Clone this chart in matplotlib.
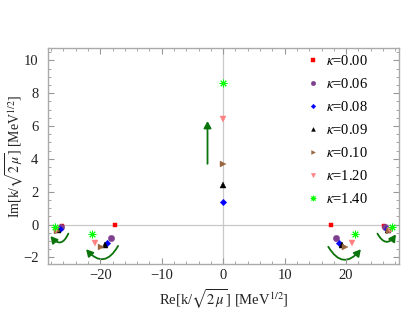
import matplotlib
matplotlib.use("Agg")
import matplotlib.pyplot as plt
from matplotlib.patches import FancyArrowPatch
from matplotlib.ticker import MultipleLocator

plt.rcParams['font.family'] = ['Liberation Serif', 'DejaVu Serif']
plt.rcParams['mathtext.fontset'] = 'stix'

kappas = ["0.00", "0.06", "0.08", "0.09", "0.10", "1.20", "1.40"]
colors = ["#ff0000", "#7f3f8f", "#0000ff", "#000000", "#99663f", "#ff8080", "#00ff00"]
markers = ["s", "o", "D", "^", ">", "v", (8, 2, 0)]
msizes = [3.4, 4.6, 3.3, 4.0, 4.0, 4.4, 5.5]

re_vals = [
    [-26.2, -17.6, 17.6, 26.2],
    [-26.4, -18.3, 18.3, 26.4],
    [-26.6, -18.9, 0.0, 18.9, 26.6],
    [-26.8, -19.3, 0.0, 19.3, 26.8],
    [-27.0, -19.8, 0.0, 19.8, 27.0],
    [-27.2, -20.9, 0.0, 20.9, 27.2],
    [-27.4, -21.4, 0.0, 21.4, 27.4],
]
im_vals = [
    [-0.10, 0.0, 0.0, -0.10],
    [-0.15, -0.8, -0.8, -0.15],
    [-0.25, -1.1, 1.4, -1.1, -0.25],
    [-0.35, -1.25, 2.4, -1.25, -0.35],
    [-0.40, -1.35, 3.7, -1.35, -0.40],
    [-0.30, -1.15, 6.4, -1.15, -0.30],
    [-0.15, -0.6, 8.6, -0.6, -0.15],
]

# annotation arrows (start, end, curvature)
arrows = [
    ((-25.2, -0.55), (-28.1, -0.7), -0.8),
    ((25.1, -0.55), (28.1, -0.6), 0.8),
    ((-17.1, -1.3), (-22.3, -1.5), -0.7),
    ((17.1, -1.35), (22.4, -1.5), 0.7),
]
vert_arrow = ((-2.55, 3.7), (-2.55, 6.3))

fig = plt.figure(figsize=(4.15, 3.12), dpi=100)
ax = fig.add_axes([0.1157, 0.1538, 0.8457, 0.8462 - 0.1538])

ax.axhline(0, color="#c8c8c8", lw=0.9, zorder=0)
ax.axvline(0, color="#c8c8c8", lw=0.9, zorder=0)

green = "#0a730a"
for (p0, p1, rad) in arrows:
    a = FancyArrowPatch(p0, p1, connectionstyle=f"arc3,rad={rad}",
                        arrowstyle="-|>,head_length=4,head_width=2.2",
                        color=green, lw=1.3, mutation_scale=1, shrinkA=0, shrinkB=0, zorder=1)
    ax.add_patch(a)
a = FancyArrowPatch(vert_arrow[0], vert_arrow[1], arrowstyle="-|>,head_length=4,head_width=2.2",
                    color=green, lw=1.3, mutation_scale=1, shrinkA=0, shrinkB=0, zorder=1)
ax.add_patch(a)

for k, c, m, s, xs, ys in zip(kappas, colors, markers, msizes, re_vals, im_vals):
    ax.plot(xs, ys, linestyle="none", marker=m, color=c, markersize=s,
            markeredgecolor=c, markeredgewidth=0.7 if m == (8, 2, 0) else 0.3,
            label=r"$\kappa$=" + k, zorder=3)

ax.set_xlim(-28.5, 28.6)
ax.set_ylim(-2.4, 10.75)
ax.xaxis.set_major_locator(MultipleLocator(10))
ax.xaxis.set_minor_locator(MultipleLocator(2))
ax.yaxis.set_major_locator(MultipleLocator(2))
ax.yaxis.set_minor_locator(MultipleLocator(0.5))
ax.tick_params(which="both", direction="in", top=True, right=True, color="#999999",
               labelsize=10.5, labelcolor="#222222")
ax.tick_params(which="major", length=4, width=0.8)
ax.tick_params(which="minor", length=2, width=0.6)
ax.tick_params(axis="y", which="major", pad=7)
for sp in ax.spines.values():
    sp.set_color("#aaaaaa")
    sp.set_linewidth(1.0)

ax.set_xlabel(r"Re[k/$\sqrt{2\,\mu}$] [MeV$^{1/2}$]", fontsize=10.5, labelpad=4, color="#222222")
ax.set_ylabel(r"Im[k/$\sqrt{2\,\mu}$] [MeV$^{1/2}$]", fontsize=10, color="#222222")
ax.yaxis.set_label_coords(-0.062, 0.5)

leg = ax.legend(loc="upper left", bbox_to_anchor=(0.735, 0.985), frameon=False,
                fontsize=10.5, handlelength=0.6, handletextpad=0.6, labelspacing=0.62,
                markerscale=0.7, borderaxespad=0.0, borderpad=0.2)

fig.savefig("out.png", dpi=100)
